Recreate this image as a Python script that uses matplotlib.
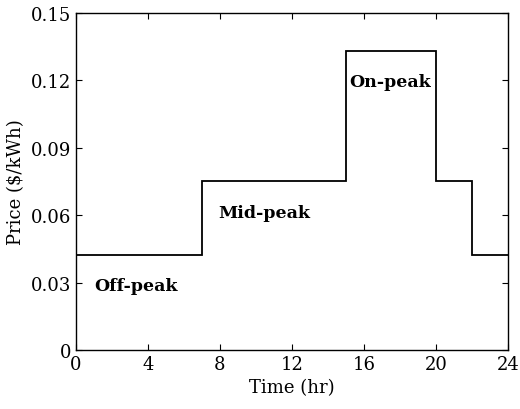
import numpy as np
import matplotlib
matplotlib.use("Agg")
import matplotlib.pyplot as plt

# 分时电价数据
hours = [0, 7, 15, 20, 22, 24]
price = [0.0424, 0.0751, 0.1332, 0.0751, 0.0424]
xticks = [0, 4, 8, 12, 16, 20, 24]
yticks = [0, 0.03, 0.06, 0.09, 0.12, 0.15]
ytick_labels = ["0", "0.03", "0.06", "0.09", "0.12", "0.15"]
period_names = ["Off-peak", "Mid-peak", "On-peak"]
period_x = [1.0, 7.9, 15.2]
period_y = [0.0285, 0.0614, 0.1194]

plt.rcParams["font.family"] = ["DejaVu Serif"]

fig = plt.figure(figsize=(5.2, 4.1), dpi=100)
ax = fig.add_axes([0.146, 0.144, 0.831, 0.822])

ax.stairs(price, hours, baseline=None, color="black", linewidth=1.3)

for name, x, y in zip(period_names, period_x, period_y):
    ax.text(x, y, name, fontsize=12.5, fontweight="bold", va="center", ha="left")

ax.set_xlim(0, 24)
ax.set_ylim(0, 0.15)
ax.set_xticks(xticks)
ax.set_yticks(yticks, labels=ytick_labels)
ax.tick_params(direction="in", top=True, right=True, labelsize=13, length=4, width=0.8)
for sp in ax.spines.values():
    sp.set_linewidth(1.0)
ax.set_xlabel("Time (hr)", fontsize=13, labelpad=4)
ax.set_ylabel("Price ($/kWh)", fontsize=13, labelpad=4)

fig.savefig("out.png", dpi=100)
